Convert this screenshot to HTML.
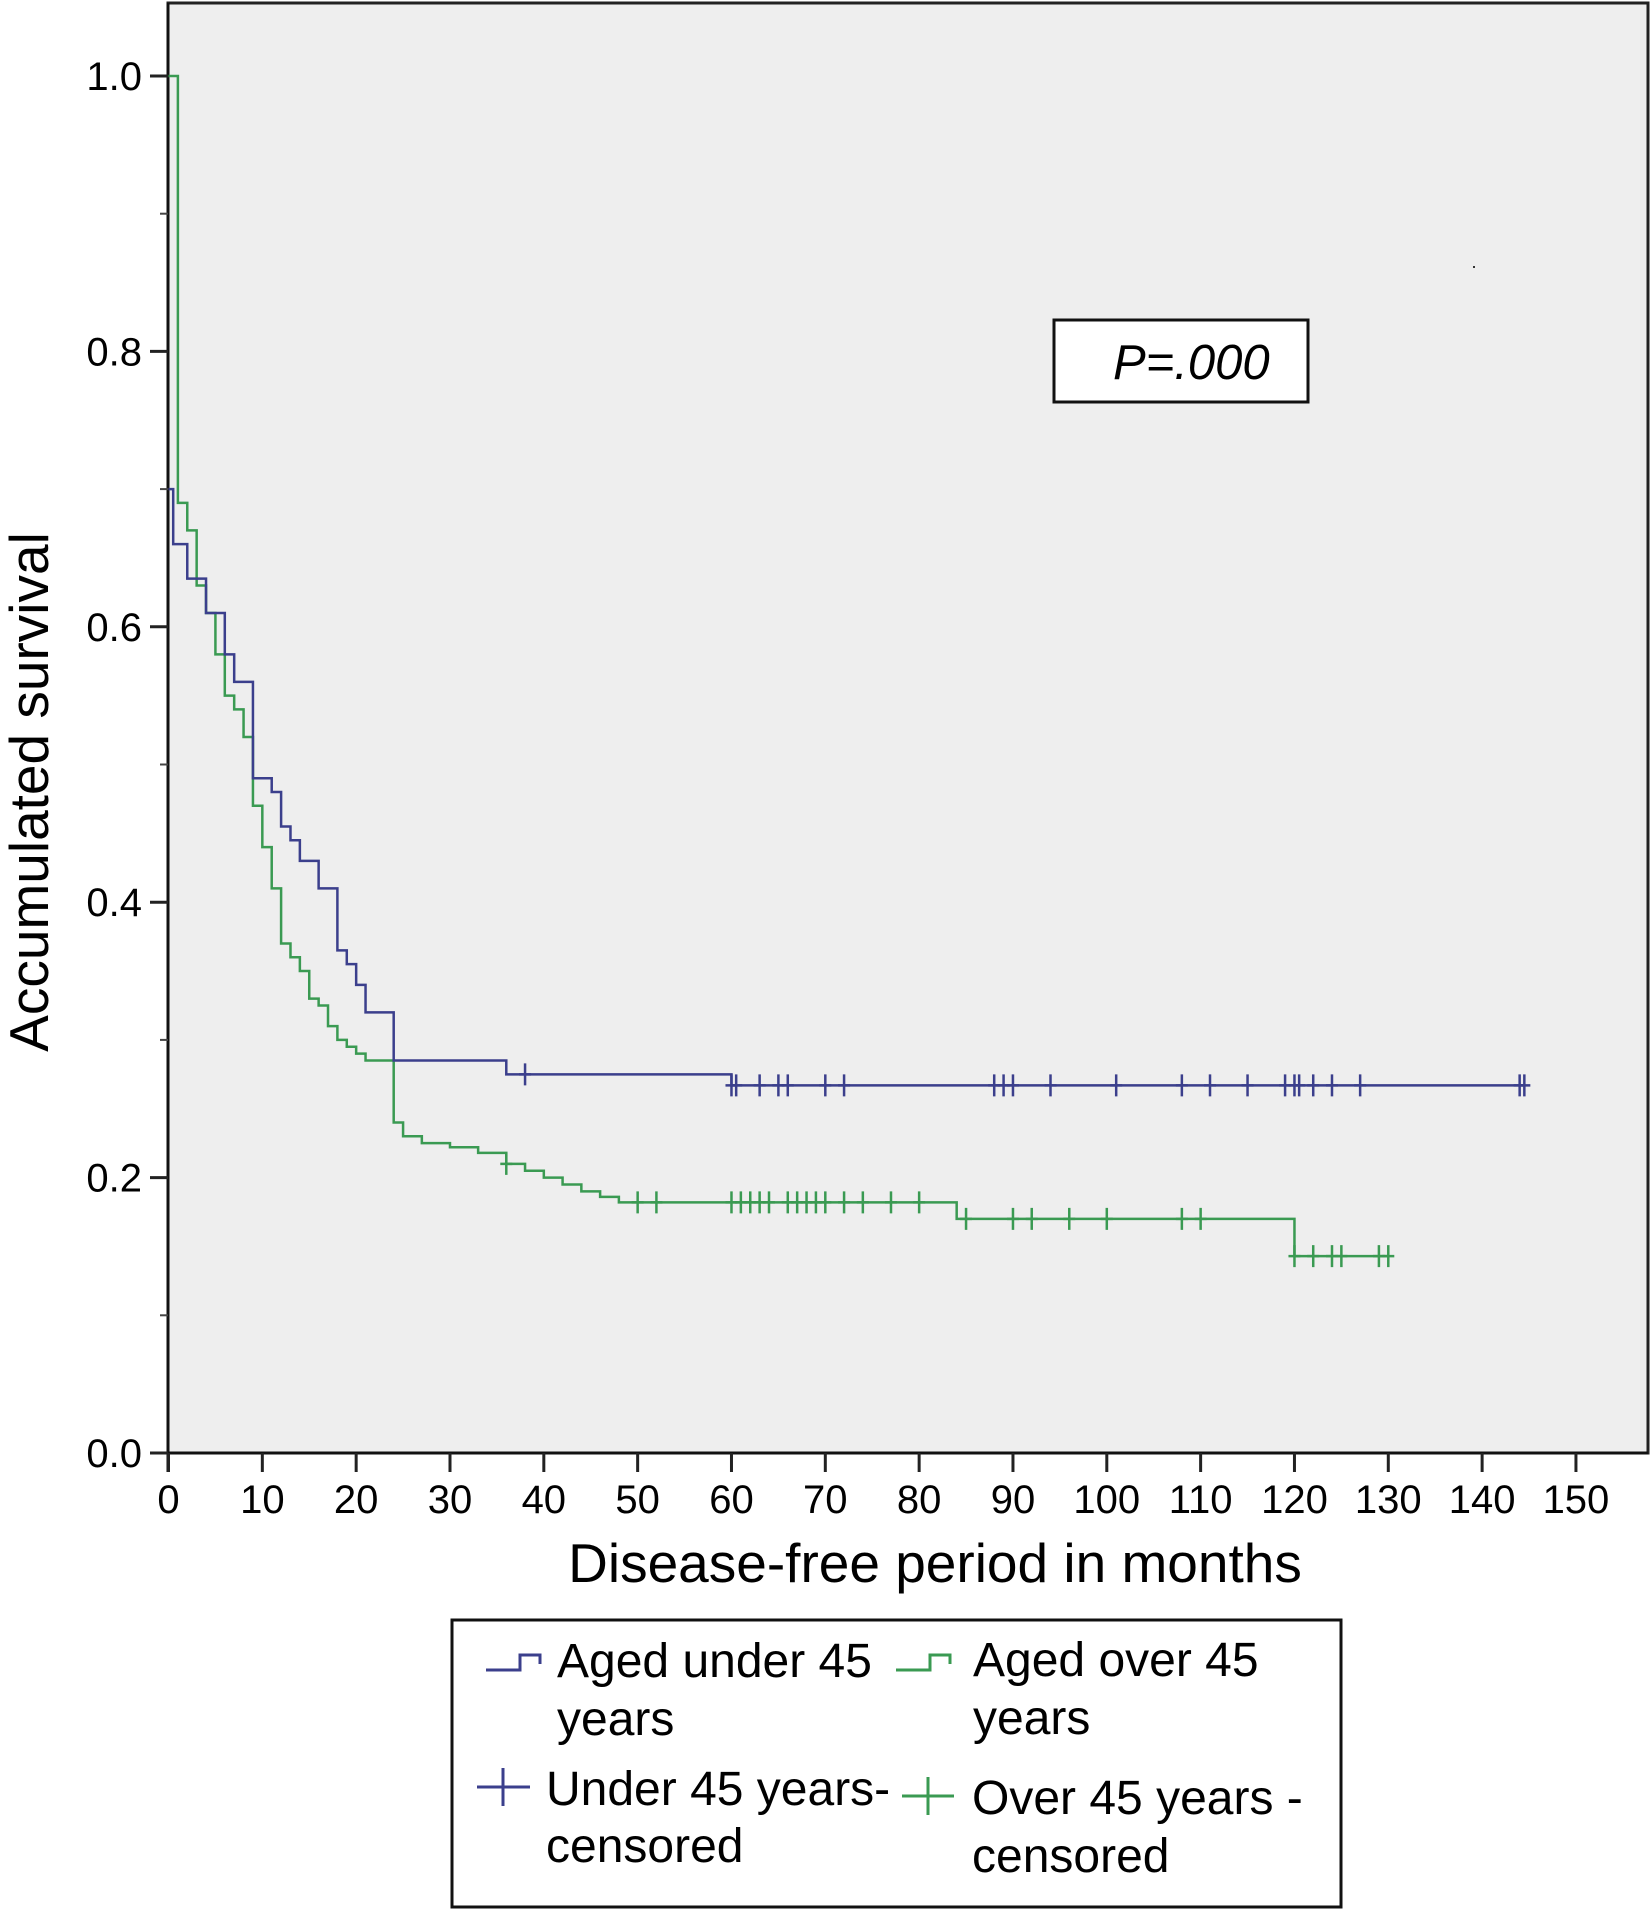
<!DOCTYPE html>
<html><head><meta charset="utf-8"><style>
html,body{margin:0;padding:0;background:#fff;}
svg{display:block;font-family:"Liberation Sans",Arial,sans-serif;}
</style></head><body>
<svg id="chart" width="1651" height="1914" viewBox="0 0 1651 1914">
<rect x="168" y="3" width="1480" height="1450" fill="#eeeeee" stroke="#222" stroke-width="3"/>
<g id="axes"></g>
<g id="curves"></g>
<rect x="1473" y="266" width="2" height="2" fill="#333"/>
<rect x="1054" y="320" width="254" height="82" fill="#fff" stroke="#111" stroke-width="3"/>
<text x="1113" y="379" font-size="49" font-style="italic">P=.000</text>
<text x="935" y="1582" font-size="55" text-anchor="middle">Disease-free period in months</text>
<text transform="translate(48,792) rotate(-90)" font-size="55" text-anchor="middle">Accumulated survival</text>
<g>
<rect x="452" y="1620" width="889" height="287" fill="#fff" stroke="#111" stroke-width="3"/>
<path d="M486,1670 H520 V1655 H540 V1664" fill="none" stroke="#3b3f8c" stroke-width="3"/>
<text x="557" y="1677" font-size="48"><tspan x="557">Aged under 45</tspan><tspan x="557" dy="58">years</tspan></text>
<path d="M896,1670 H930 V1655 H950 V1664" fill="none" stroke="#3a9a52" stroke-width="3"/>
<text x="973" y="1676" font-size="48"><tspan x="973">Aged over 45</tspan><tspan x="973" dy="58">years</tspan></text>
<path d="M477,1787 H530 M503,1768 V1806" stroke="#3b3f8c" stroke-width="3"/>
<text x="546" y="1805" font-size="48"><tspan x="546">Under 45 years-</tspan><tspan x="546" dy="57">censored</tspan></text>
<path d="M902,1796 H954 M928,1777 V1815" stroke="#3a9a52" stroke-width="3"/>
<text x="972" y="1814" font-size="48"><tspan x="972">Over 45 years -</tspan><tspan x="972" dy="58">censored</tspan></text>
</g>
</svg>
<script>
const xTicks=[0,10,20,30,40,50,60,70,80,90,100,110,120,130,140,150];
const yTicks=[0.0,0.2,0.4,0.6,0.8,1.0];
const yMinor=[0.1,0.3,0.5,0.7,0.9];
const underTimes=[0,0.5,2,4,6,7,9,11,12,13,14,16,18,19,20,21,24,36,60,144.5];
const underSurv=[0.70,0.66,0.635,0.61,0.58,0.56,0.49,0.48,0.455,0.445,0.43,0.41,0.365,0.355,0.34,0.32,0.285,0.275,0.267,0.267];
const underCensor=[38,60,60.5,63,65,66,70,72,88,89,90,94,101,108,111,115,119,120,120.5,122,124,127,144,144.5];
const overTimes=[0,1,2,3,4,5,6,7,8,9,10,11,12,13,14,15,16,17,18,19,20,21,24,25,27,30,33,36,38,40,42,44,46,48,84,120,130];
const overSurv=[1.0,0.69,0.67,0.63,0.61,0.58,0.55,0.54,0.52,0.47,0.44,0.41,0.37,0.36,0.35,0.33,0.325,0.31,0.30,0.295,0.29,0.285,0.24,0.23,0.225,0.222,0.218,0.21,0.205,0.20,0.195,0.19,0.186,0.182,0.17,0.143,0.143];
const overCensor=[36,50,52,60,61,62,63,64,66,67,68,69,70,72,74,77,80,85,90,92,96,100,108,110,120,122,124,125,129,130];
const NS='http://www.w3.org/2000/svg';
const X=t=>168.5+t*9.383, Y=s=>1453-s*1377;
const axes=document.getElementById('axes'), curves=document.getElementById('curves');
function mk(tag,attrs,parent){const e=document.createElementNS(NS,tag);for(const k in attrs)e.setAttribute(k,attrs[k]);parent.appendChild(e);return e;}
mk('line',{x1:150,y1:1453,x2:1648,y2:1453,stroke:'#111','stroke-width':3},axes);
mk('line',{x1:168,y1:3,x2:168,y2:1472,stroke:'#111','stroke-width':3},axes);
xTicks.forEach(t=>{
  const l=mk('line',{x1:X(t),y1:1453,x2:X(t),y2:1472,stroke:'#222','stroke-width':3},axes);
  
  
  const tx=mk('text',{x:X(t),y:1513,'font-size':40,'text-anchor':'middle'},axes);
  tx.textContent=String(t);
  
  
});
yTicks.forEach(v=>{
  const l=mk('line',{x1:150,y1:Y(v),x2:168,y2:Y(v),stroke:'#222','stroke-width':3},axes);
  
  
  const tx=mk('text',{x:142,y:Y(v)+14,'font-size':40,'text-anchor':'end'},axes);
  tx.textContent=v.toFixed(1);
  
  
});
yMinor.forEach(v=>{
  const l=mk('line',{x1:160,y1:Y(v),x2:168,y2:Y(v),stroke:'#444','stroke-width':2},axes);
  
  
});
function survAt(times,surv,t){let s=surv[0];for(let i=0;i<times.length;i++){if(times[i]<=t)s=surv[i];}return s;}
function drawCurve(times,surv,cens,color,name,startFromOne){
  let d='M'+X(0)+','+Y(startFromOne?1:surv[0]);
  for(let i=0;i<times.length;i++){d+=' H'+X(times[i])+' V'+Y(surv[i]);}
  const p=mk('path',{d:d,fill:'none',stroke:color,'stroke-width':2.5},curves);
  
  
  cens.forEach(t=>{
    const y=Y(survAt(times,surv,t));
    const c=mk('path',{d:'M'+X(t)+','+(y-11)+' V'+(y+11)+' M'+(X(t)-6)+','+y+' H'+(X(t)+6),stroke:color,'stroke-width':2.5},curves);
    
    
  });
}
drawCurve(overTimes,overSurv,overCensor,'#3a9a52','over45',true);
drawCurve(underTimes,underSurv,underCensor,'#3b3f8c','under45',false);
</script>
</body></html>
